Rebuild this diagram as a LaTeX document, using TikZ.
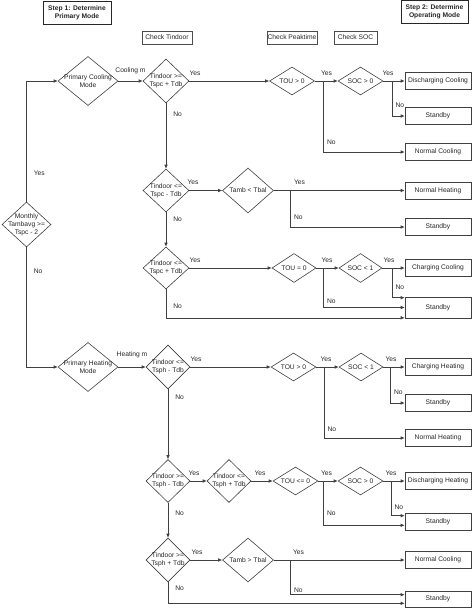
\documentclass[tikz,border=0pt]{standalone}
\usepackage{fontspec}
\setmainfont{Liberation Sans}
\usepackage{tikz}
\usetikzlibrary{shapes.geometric}
\usetikzlibrary{calc,arrows.meta}

\begin{document}
\begin{tikzpicture}[x=1pt,y=1pt]
    % Define the styles of the chart
    \tikzset{
        txt/.style={font=\fontsize{6.7}{7.8}\selectfont, text=black!85},
        flowline/.style={draw=black!75, line width=0.6pt, -{Latex[length=4pt, width=3.6pt]}},
        decision/.style n args={2}{draw=black!75, line width=0.6pt, diamond, inner sep=0pt, minimum width=#1, minimum height=#2},
        dtext/.style={txt, align=center, inner sep=0pt},
        modebox/.style={txt, draw=black!75, line width=0.6pt, minimum width=66, minimum height=#1, inner sep=0pt},
        modebox/.default=17,
        headbox/.style={txt, font=\fontsize{6.7}{7.8}\selectfont\bfseries, draw=black!85, line width=0.9pt, align=center, minimum width=#1, minimum height=23, inner sep=0pt},
        checkbox/.style={txt, draw=black!70, line width=0.5pt, minimum width=#1, minimum height=13.5, inner sep=0pt},
        lbl/.style={txt, inner sep=0pt},
        yeslbl/.style={lbl, pos=0, anchor=south west, xshift=#1, yshift=5.5pt},
        nolbl/.style={lbl, pos=0.5, anchor=south west, xshift=3.5pt, yshift=#1},
        nolbl/.default=8pt,
        nodown/.style={lbl, pos=#1, anchor=west, xshift=7pt}
    }
    \useasboundingbox (0,0) rectangle (474,-613);

    % Draw the step and check boxes
    \node[headbox=68] (step1) at (77,-12.5) {Step 1: Determine\\Primary Mode};
    \node[headbox=67] (step2) at (434.5,-12) {Step 2: Determine\\Operating Mode};
    \node[checkbox=50] (chktin) at (167,-37.5) {Check Tindoor};
    \node[checkbox=50] (chkpeak) at (292,-37.5) {Check Peaktime};
    \node[checkbox=43] (chksoc) at (355.5,-37.5) {Check SOC};

    % Draw the primary mode decisions
    \node[decision={49}{45}, label={[dtext]center:Monthly\\Tambavg >=\\Tspc - 2}] (month) at (26.5,-224.5) {};
    \node[decision={60}{49}, label={[dtext]center:Primary Cooling\\Mode}] (pcool) at (88,-81) {};
    \node[decision={60}{49}, label={[dtext]center:Primary Heating\\Mode}] (pheat) at (88,-367) {};

    % Draw the cooling decisions
    \node[decision={46}{44}, label={[dtext]center:Tindoor >=\\Tspc + Tdb}] (tin1) at (166,-81) {};
    \node[decision={45}{28}, label={[dtext]center:TOU > 0}] (tou1) at (292,-81) {};
    \node[decision={45}{28}, label={[dtext]center:SOC > 0}] (soc1) at (360.5,-81) {};
    \node[decision={46}{43}, label={[dtext]center:Tindoor <=\\Tspc - Tdb}] (tin2) at (166,-190.5) {};
    \node[decision={51}{45}, label={[dtext]center:Tamb < Tbal}] (tamb1) at (248,-190.5) {};
    \node[decision={46}{42}, label={[dtext]center:Tindoor <=\\Tspc + Tdb}] (tin3) at (166,-268) {};
    \node[decision={44}{29}, label={[dtext]center:TOU = 0}] (tou2) at (294,-268) {};
    \node[decision={43}{29}, label={[dtext]center:SOC < 1}] (soc2) at (360.5,-268) {};

    % Draw the heating decisions
    \node[decision={44}{44}, label={[dtext]center:Tindoor <=\\Tsph - Tdb}] (tin4) at (168,-367) {};
    \node[decision={45}{28}, label={[dtext]center:TOU > 0}] (tou3) at (293.5,-367) {};
    \node[decision={44}{28}, label={[dtext]center:SOC < 1}] (soc3) at (361,-367) {};
    \node[decision={44}{43}, label={[dtext]center:Tindoor >=\\Tsph - Tdb}] (tin5) at (168,-481) {};
    \node[decision={44}{43}, label={[dtext]center:Tindoor <=\\Tsph + Tdb}] (tin6) at (229,-481) {};
    \node[decision={45}{28}, label={[dtext]center:TOU <= 0}] (tou4) at (295.5,-481) {};
    \node[decision={45}{28}, label={[dtext]center:SOC > 0}] (soc4) at (360.5,-481) {};
    \node[decision={44}{44}, label={[dtext]center:Tindoor >=\\Tsph + Tdb}] (tin7) at (168,-560) {};
    \node[decision={51}{44}, label={[dtext]center:Tamb > Tbal}] (tamb2) at (248,-560) {};

    % Draw the operating modes
    \node[modebox] (dcool) at (438,-81) {Discharging Cooling};
    \node[modebox] (stby1) at (438,-116) {Standby};
    \node[modebox] (ncool1) at (438,-152) {Normal Cooling};
    \node[modebox] (nheat1) at (438,-190.5) {Normal Heating};
    \node[modebox] (stby2) at (438,-227) {Standby};
    \node[modebox] (ccool) at (438,-268) {Charging Cooling};
    \node[modebox=21] (stby3) at (438,-307.5) {Standby};
    \node[modebox] (cheat) at (438,-367) {Charging Heating};
    \node[modebox] (stby4) at (438,-403) {Standby};
    \node[modebox] (nheat2) at (438,-438) {Normal Heating};
    \node[modebox] (dheat) at (438,-481) {Discharging Heating};
    \node[modebox] (stby5) at (438,-521.5) {Standby};
    \node[modebox] (ncool2) at (438,-560) {Normal Cooling};
    \node[modebox=16] (stby6) at (438,-599) {Standby};

    % Draw the primary mode split
    \draw[flowline] (month.north) |- node[nodown=0.12]{Yes} (pcool.west);
    \draw[flowline] (month.south) |- node[nodown=0.10]{No} (pheat.west);

    % Draw the cooling connectors
    \draw[flowline] (pcool.east) -- node[lbl, anchor=base, yshift=8.2pt]{Cooling m} (tin1.west);
    \draw[flowline] (tin1.east) -- node[yeslbl=0pt]{Yes} (tou1.west);
    \draw[flowline] (tou1.east) -- node[yeslbl=6pt]{Yes} (soc1.west);
    \draw[flowline] (soc1.east) -- node[yeslbl=-1pt]{Yes} (dcool.west);
    \draw[flowline] (soc1.east) -- ++(8.5,0) |- node[nolbl]{No} (stby1.west);
    \draw[flowline] (tou1.east) -- ++(8.5,0) |- node[nolbl=7.5pt]{No} (ncool1.west);
    \draw[flowline] (tin1.south) -- node[nodown=0.17]{No} (tin2.north);
    \draw[flowline] (tin2.east) -- node[yeslbl=-2pt]{Yes} (tamb1.west);
    \draw[flowline] (tamb1.east) -- node[yeslbl=20pt]{Yes} (nheat1.west);
    \draw[flowline] (tamb1.east) -- ++(16.5,0) |- node[nolbl=7.5pt]{No} (stby2.west);
    \draw[flowline] (tin2.south) -- node[nodown=0.2]{No} (tin3.north);
    \draw[flowline] (tin3.east) -- node[yeslbl=0pt]{Yes} (tou2.west);
    \draw[flowline] (tou2.east) -- node[yeslbl=5pt]{Yes} (soc2.west);
    \draw[flowline] (soc2.east) -- node[yeslbl=1pt]{Yes} (ccool.west);
    \draw[flowline] (soc2.east) -- ++(9.5,0) |- node[nolbl=7.5pt]{No} ([yshift=-1pt]stby3.north west);
    \draw[flowline] (tou2.east) -- ++(7,0) |- node[nolbl=3.6pt]{No} (stby3.west);
    \draw[flowline] (tin3.south) |- node[nodown=0.29]{No} ([yshift=0.5pt]stby3.south west);

    % Draw the heating connectors
    \draw[flowline] (pheat.east) -- node[lbl, anchor=base, yshift=10.2pt]{Heating m} (tin4.west);
    \draw[flowline] (tin4.east) -- node[yeslbl=0pt]{Yes} (tou3.west);
    \draw[flowline] (tou3.east) -- node[yeslbl=4pt]{Yes} (soc3.west);
    \draw[flowline] (soc3.east) -- node[yeslbl=2pt]{Yes} (cheat.west);
    \draw[flowline] (soc3.east) -- ++(7,0) |- node[nolbl=8.6pt]{No} (stby4.west);
    \draw[flowline] (tou3.east) -- ++(7.5,0) |- node[nolbl=6.6pt]{No} (nheat2.west);
    \draw[flowline] (tin4.south) -- node[nodown=0.11]{No} (tin5.north);
    \draw[flowline] (tin5.east) -- node[yeslbl=-2pt]{Yes} (tin6.west);
    \draw[flowline] (tin6.east) -- node[yeslbl=3pt]{Yes} (tou4.west);
    \draw[flowline] (tou4.east) -- node[yeslbl=2.5pt]{Yes} (soc4.west);
    \draw[flowline] (soc4.east) -- node[yeslbl=2pt]{Yes} (dheat.west);
    \draw[flowline] (soc4.east) -- ++(7.5,0) |- node[nolbl=5.6pt]{No} ([yshift=-3pt]stby5.north west);
    \draw[flowline] (tou4.east) -- ++(5,0) |- node[nolbl=9.6pt]{No} ([yshift=5pt]stby5.south west);
    \draw[flowline] (tin5.south) -- node[nodown=0.3]{No} (tin7.north);
    \draw[flowline] (tin7.east) -- node[yeslbl=1pt]{Yes} (tamb2.west);
    \draw[flowline] (tamb2.east) -- node[yeslbl=19pt]{Yes} (ncool2.west);
    \draw[flowline] (tamb2.east) -- ++(16.5,0) |- node[nolbl=1.5pt]{No} ([yshift=-4pt]stby6.north west);
    \draw[flowline] (tin7.south) |- node[nodown=0.14]{No} ([yshift=4pt]stby6.south west);
\end{tikzpicture}
\end{document}
